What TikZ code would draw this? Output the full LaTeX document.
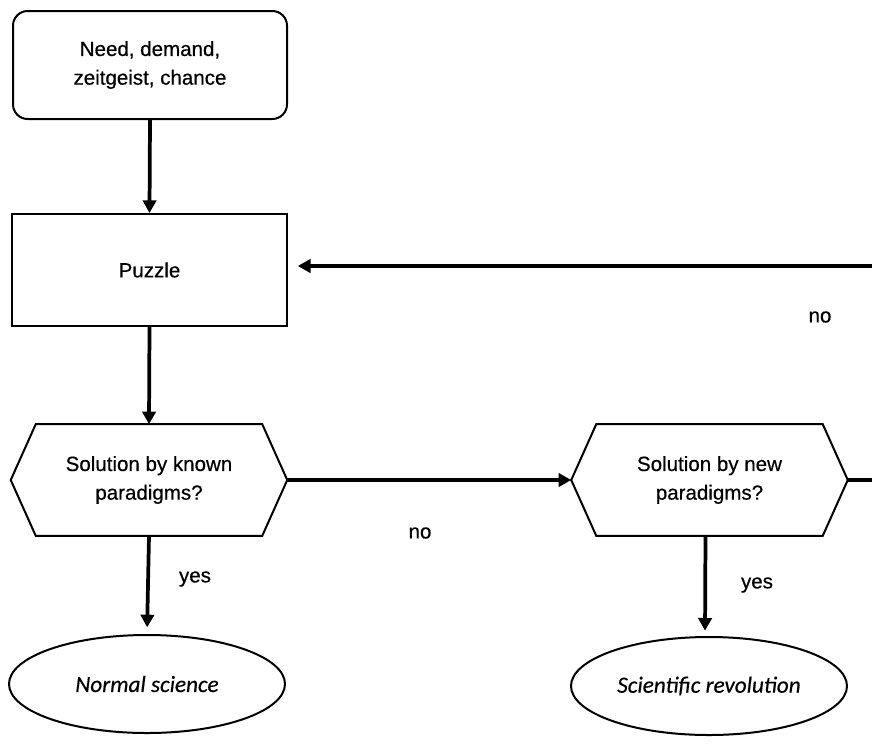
\documentclass[tikz,border=0pt]{standalone}
\usepackage{fontspec}
\setmainfont[FakeBold=0.5]{Liberation Sans}
\newfontfamily\carlito[FakeBold=0.4]{Carlito}
\usetikzlibrary{arrows.meta,calc,shapes.geometric}
\begin{document}
\begin{tikzpicture}[x=0.75pt,y=-0.75pt,
  every node/.style={font=\fontsize{15.4}{21.5}\selectfont},
  boxline/.style={draw=black,line width=1.5pt},
  roundbox/.style={boxline,rounded corners=11pt,minimum width=205.5pt,minimum height=81pt,inner sep=0pt,align=center},
  plainbox/.style={boxline,minimum width=206pt,minimum height=84pt,inner sep=0pt,align=center},
  hexbox/.style={minimum width=207pt,minimum height=83.25pt,inner sep=0pt,align=center},
  outcome/.style={boxline,ellipse,minimum width=207pt,minimum height=73.5pt,inner sep=0pt,
    font=\carlito\itshape\fontsize{17.4}{20}\selectfont},
  flow/.style={line width=2.8pt,-{Triangle[length=9.5pt,width=10pt]}},
  plain/.style={line width=2.8pt},
  lbl/.style={inner sep=0pt}
]
\useasboundingbox (0,0) rectangle (872,744);

% nodes
\node[roundbox] (start) at (150,65) {Need, demand,\\zeitgeist, chance};
\node[plainbox] (puzzle) at (149.5,270) {Puzzle};
\node[hexbox] (known) at (149,480) {Solution by known\\paradigms?};
\node[hexbox] (new) at (709.5,480) {Solution by new\\paradigms?};
\node[outcome] (normal) at (147,684) {Normal science};
\node[outcome] (revol) at (709,686) {Scientific revolution};

% hexagon outlines
\foreach \h in {known,new}{
  \draw[boxline,line join=miter]
    (\h.west) -- ($(\h.north west)+(25,0)$) -- ($(\h.north east)+(-25,0)$)
    -- (\h.east) -- ($(\h.south east)+(-25,0)$) -- ($(\h.south west)+(25,0)$) -- cycle;
}

% loose ends of the loop back to the puzzle
\coordinate (retin) at (872,266);
\coordinate (retout) at (872,480);

% connectors
\draw[flow] (start.south) -- (puzzle.north);
\draw[flow,shorten >=7.5pt] (retin) -- (retin -| puzzle.east);
\draw[flow] (puzzle.south) -- (known.north);
\draw[flow] (known.east) -- (new.west);
\draw[plain] (new.east) -- (retout);
\draw[flow,shorten >=5pt] (known.south) -- (normal.north);
\draw[flow,shorten >=4pt] ($(new.south)+(-4,0)$) -- ($(revol.north)+(-4,0)$);

% labels
\node[lbl] (noA) at (820,317) {no};
\node[lbl] (noB) at (420,533) {no};
\node[lbl] (yesA) at (195,579) {yes};
\node[lbl] (yesB) at (757,585) {yes};
\end{tikzpicture}
\end{document}
